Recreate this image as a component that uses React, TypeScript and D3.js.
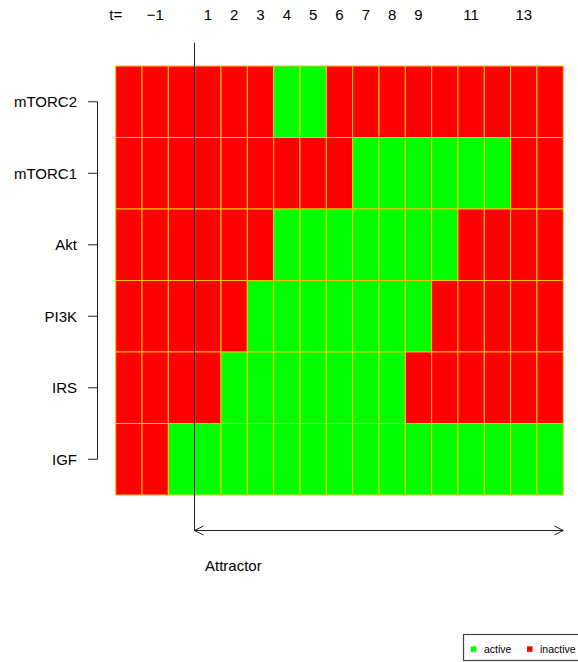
import React from "react";
import * as d3 from "d3";

const nodes = ["mTORC2", "mTORC1", "Akt", "PI3K", "IRS", "IGF"];
const timeSteps = [-2, -1, 0, 1, 2, 3, 4, 5, 6, 7, 8, 9, 10, 11, 12, 13, 14];
const labeledSteps = [-1, 1, 2, 3, 4, 5, 6, 7, 8, 9, 11, 13];
const attractorStart = 1;

const mTORC2 = [0, 0, 0, 0, 0, 0, 1, 1, 0, 0, 0, 0, 0, 0, 0, 0, 0];
const mTORC1 = [0, 0, 0, 0, 0, 0, 0, 0, 0, 1, 1, 1, 1, 1, 1, 0, 0];
const Akt = [0, 0, 0, 0, 0, 0, 1, 1, 1, 1, 1, 1, 1, 0, 0, 0, 0];
const PI3K = [0, 0, 0, 0, 0, 1, 1, 1, 1, 1, 1, 1, 0, 0, 0, 0, 0];
const IRS = [0, 0, 0, 0, 1, 1, 1, 1, 1, 1, 1, 0, 0, 0, 0, 0, 0];
const IGF = [0, 0, 1, 1, 1, 1, 1, 1, 1, 1, 1, 1, 1, 1, 1, 1, 1];

const states: Record<string, number[]> = { mTORC2, mTORC1, Akt, PI3K, IRS, IGF };
const legendItems = ["active", "inactive"];

const W = 578;
const H = 662;
const FONT = "'Liberation Sans', Arial, Helvetica, sans-serif";

export default function App() {
  const x = d3.scaleBand<number>().domain(timeSteps).range([115.7, 563.3]).padding(0);
  const y = d3.scaleBand<string>().domain(nodes).range([66, 495]).padding(0);
  const color = d3.scaleOrdinal<number, string>().domain([1, 0]).range(["#00FF00", "#FF0000"]);
  const bw = x.bandwidth();
  const bh = y.bandwidth();

  const cells: { node: string; t: number; v: number }[] = [];
  nodes.forEach((n) => {
    states[n].forEach((v, i) => cells.push({ node: n, t: timeSteps[i], v }));
  });

  const axisX = 97.5;
  const firstTick = (y(nodes[0]) as number) + bh / 2;
  const lastTick = (y(nodes[nodes.length - 1]) as number) + bh / 2;

  const lineX = Math.round(x(attractorStart) as number) - 0.5;
  const arrowY = 530.5;
  const arrowEnd = x.range()[1];
  const ah = 9;
  const aw = 4.5;

  return (
    <svg
      width={W}
      height={H}
      style={{ position: "absolute", left: 0, top: 0, background: "#fff" }}
      fontFamily={FONT}
    >
      {/* cells */}
      <g>
        {cells.map((c, i) => (
          <rect
            key={i}
            x={x(c.t)}
            y={y(c.node)}
            width={bw}
            height={bh}
            fill={color(c.v)}
            stroke="#FFC400"
            strokeWidth={1}
          />
        ))}
      </g>

      {/* top labels */}
      <g fontSize={15} textAnchor="middle" fill="#000">
        <text x={x.range()[0]} y={20}>t=</text>
        {labeledSteps.map((s) => (
          <text key={s} x={(x(s) as number) + bw / 2} y={20}>
            {s < 0 ? "\u2212" + Math.abs(s) : String(s)}
          </text>
        ))}
      </g>

      {/* left axis */}
      <g stroke="#222" strokeWidth={1}>
        <line x1={axisX} x2={axisX} y1={firstTick} y2={lastTick} />
        {nodes.map((n) => {
          const yy = (y(n) as number) + bh / 2;
          return <line key={n} x1={axisX - 9.5} x2={axisX} y1={yy} y2={yy} />;
        })}
      </g>
      <g fontSize={15} textAnchor="end" fill="#000">
        {nodes.map((n) => (
          <text key={n} x={77} y={(y(n) as number) + bh / 2} dy="0.35em">
            {n}
          </text>
        ))}
      </g>

      {/* attractor marker */}
      <g stroke="#222" strokeWidth={1} fill="none">
        <line x1={lineX} x2={lineX} y1={42.5} y2={arrowY} />
        <line x1={lineX} x2={arrowEnd} y1={arrowY} y2={arrowY} />
        <polyline points={`${lineX + ah},${arrowY - aw} ${lineX},${arrowY} ${lineX + ah},${arrowY + aw}`} />
        <polyline points={`${arrowEnd - ah},${arrowY - aw} ${arrowEnd},${arrowY} ${arrowEnd - ah},${arrowY + aw}`} />
      </g>
      <text x={205} y={571} fontSize={15} fill="#000">Attractor</text>

      {/* legend */}
      <g>
        <rect x={463.5} y={634.5} width={125} height={26} fill="#fff" stroke="#444" strokeWidth={1.2} />
        <rect x={470.8} y={646.3} width={5.5} height={5.5} fill={color(1)} />
        <text x={484} y={652.5} fontSize={10.5} fill="#000">{legendItems[0]}</text>
        <rect x={527} y={646.3} width={5.5} height={5.5} fill={color(0)} />
        <text x={540} y={652.5} fontSize={10.5} fill="#000">{legendItems[1]}</text>
      </g>
    </svg>
  );
}
